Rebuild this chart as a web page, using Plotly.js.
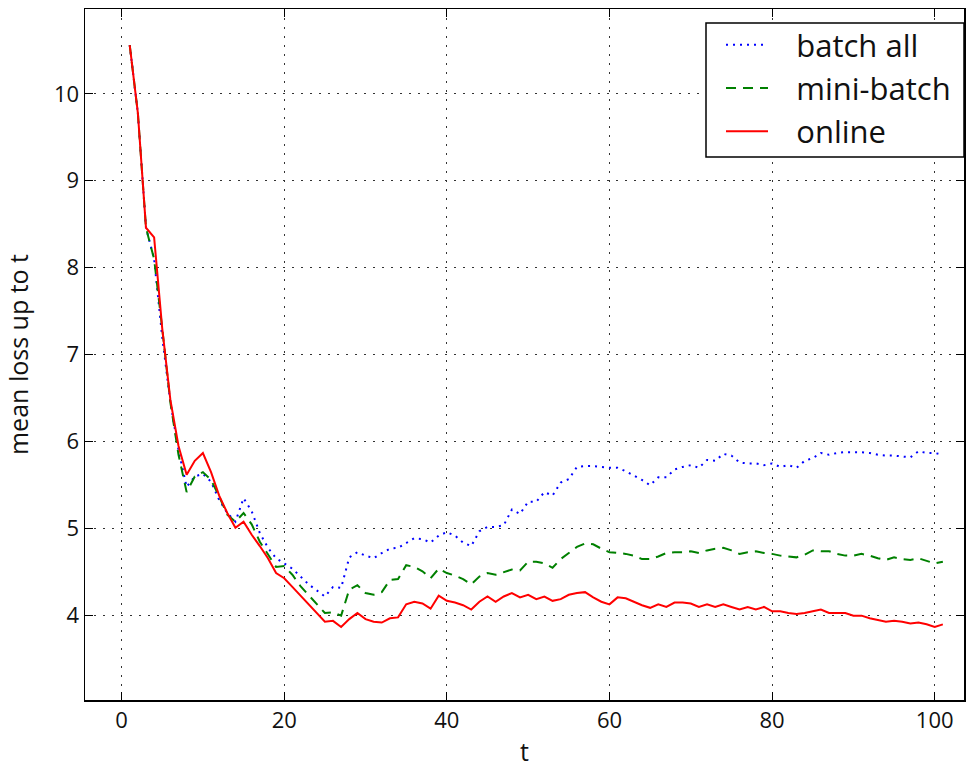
<!DOCTYPE html>
<html>
<head>
<meta charset="utf-8">
<script src="https://cdn.plot.ly/plotly-3.0.1.min.js"></script>
<style>
  html, body { margin: 0; padding: 0; background: #fff; }
  #chart { width: 966px; height: 768px; }
</style>
</head>
<body>
<div id="chart"></div>
<script>
// t = 1 .. 101
const t = [];
for (let i = 1; i <= 101; i++) t.push(i);

const batchAll = [
  10.56, 9.78, 8.46, 8.10, 7.20, 6.45, 5.90, 5.48, 5.60, 5.63,
  5.54, 5.33, 5.18, 5.08, 5.35, 5.20, 4.95, 4.78, 4.66, 4.60,
  4.54, 4.45, 4.36, 4.29, 4.22, 4.33, 4.32, 4.67, 4.73, 4.69,
  4.66, 4.72, 4.77, 4.78, 4.84, 4.89, 4.88, 4.84, 4.92, 4.96,
  4.92, 4.84, 4.80, 4.97, 5.02, 5.02, 5.04, 5.22, 5.17, 5.31,
  5.31, 5.42, 5.38, 5.53, 5.57, 5.71, 5.72, 5.72, 5.71, 5.70,
  5.70, 5.66, 5.61, 5.56, 5.50, 5.59, 5.59, 5.68, 5.71, 5.73,
  5.70, 5.79, 5.78, 5.86, 5.84, 5.76, 5.75, 5.75, 5.73, 5.75,
  5.71, 5.73, 5.70, 5.78, 5.81, 5.87, 5.85, 5.87, 5.88, 5.88,
  5.88, 5.87, 5.85, 5.84, 5.84, 5.83, 5.82, 5.89, 5.87, 5.87,
  5.85
];

const miniBatch = [
  10.56, 9.78, 8.46, 8.10, 7.30, 6.45, 5.85, 5.42, 5.60, 5.65,
  5.56, 5.37, 5.16, 5.08, 5.18, 5.05, 4.85, 4.70, 4.56, 4.57,
  4.47, 4.34, 4.24, 4.14, 4.03, 4.04, 4.00, 4.30, 4.35, 4.26,
  4.24, 4.27, 4.41, 4.42, 4.58, 4.56, 4.51, 4.43, 4.54, 4.49,
  4.46, 4.42, 4.36, 4.45, 4.49, 4.47, 4.50, 4.53, 4.52, 4.62,
  4.62, 4.60, 4.55, 4.65, 4.72, 4.79, 4.83, 4.82, 4.77, 4.73,
  4.72, 4.71, 4.69, 4.65, 4.65, 4.68, 4.72, 4.73, 4.73, 4.74,
  4.72, 4.75, 4.77, 4.78, 4.75, 4.71, 4.73, 4.74, 4.72, 4.71,
  4.69, 4.68, 4.67, 4.70, 4.75, 4.74, 4.74, 4.71, 4.69, 4.69,
  4.71, 4.69, 4.66, 4.64, 4.67, 4.65, 4.64, 4.66, 4.63, 4.60,
  4.62
];

const online = [
  10.56, 9.78, 8.46, 8.35, 7.30, 6.48, 5.95, 5.62, 5.78, 5.87,
  5.65, 5.38, 5.18, 5.01, 5.08, 4.93, 4.80, 4.66, 4.49, 4.43,
  4.33, 4.23, 4.13, 4.03, 3.93, 3.94, 3.87, 3.96, 4.03, 3.96,
  3.93, 3.92, 3.97, 3.98, 4.13, 4.16, 4.14, 4.08, 4.23, 4.17,
  4.15, 4.12, 4.07, 4.16, 4.22, 4.16, 4.22, 4.26, 4.21, 4.24,
  4.19, 4.22, 4.17, 4.19, 4.24, 4.26, 4.27, 4.21, 4.16, 4.13,
  4.21, 4.20, 4.16, 4.12, 4.09, 4.13, 4.10, 4.15, 4.15, 4.14,
  4.10, 4.13, 4.10, 4.13, 4.10, 4.07, 4.10, 4.07, 4.10, 4.05,
  4.05, 4.03, 4.02, 4.03, 4.05, 4.07, 4.03, 4.03, 4.03, 4.00,
  4.00, 3.97, 3.95, 3.93, 3.94, 3.93, 3.91, 3.92, 3.90, 3.87,
  3.90
];

const seriesNames = ['batch all', 'mini-batch', 'online'];
const xTicks = [0, 20, 40, 60, 80, 100];
const yTicks = [4, 5, 6, 7, 8, 9, 10];

const FONT = 'Open Sans, Noto Sans, sans-serif';
const GAP = '\u2002\u2005';

const traces = [
  { x: t, y: batchAll, name: GAP + seriesNames[0], mode: 'lines',
    line: { color: '#0000ff', width: 2, dash: '2px,5px' } },
  { x: t, y: miniBatch, name: GAP + seriesNames[1], mode: 'lines',
    line: { color: '#008000', width: 2, dash: '10px,7px' } },
  { x: t, y: online, name: GAP + seriesNames[2], mode: 'lines',
    line: { color: '#ff0000', width: 2 } }
];

const axisCommon = {
  showline: true, linecolor: '#000', linewidth: 1.5, mirror: 'ticks',
  ticks: 'inside', ticklen: 8, tickwidth: 1, tickcolor: '#000',
  showgrid: true, gridcolor: '#333', gridwidth: 1, griddash: '2px,7px',
  zeroline: false,
  tickfont: { family: FONT, size: 22, color: '#111' }
};

// legend frame (pixel box 706..964 x 23..157 in a 85..964 x 9..700 plot area)
const PX = px => (px - 85) / 879;
const PY = py => (700 - py) / 691;

const layout = {
  width: 966, height: 768,
  margin: { l: 85, r: 2, t: 9, b: 68 },
  paper_bgcolor: '#fff', plot_bgcolor: '#fff',
  showlegend: true,
  xaxis: Object.assign({}, axisCommon, {
    range: [-4.5, 103.6], tickvals: xTicks, ticktext: xTicks.map(String),
    title: { text: 't', font: { family: FONT, size: 25, color: '#111' }, standoff: 22 }
  }),
  yaxis: Object.assign({}, axisCommon, {
    range: [3.03, 10.975], tickvals: yTicks, ticktext: yTicks.map(String),
    title: { text: 'mean loss up to t', font: { family: FONT, size: 25, color: '#111' }, standoff: 18 }
  }),
  shapes: [{
    type: 'rect', xref: 'paper', yref: 'paper', layer: 'above',
    x0: PX(706), x1: PX(964), y0: PY(157), y1: PY(23),
    fillcolor: '#fff', line: { color: '#000', width: 1.5 }
  }],
  legend: {
    x: PX(721), xanchor: 'left', y: PY(18), yanchor: 'top',
    bgcolor: 'rgba(0,0,0,0)', borderwidth: 0,
    font: { family: FONT, size: 31, color: '#111' },
    itemwidth: 42, tracegroupgap: 0
  }
};

Plotly.newPlot('chart', traces, layout, { displayModeBar: false, staticPlot: true });
</script>
</body>
</html>
